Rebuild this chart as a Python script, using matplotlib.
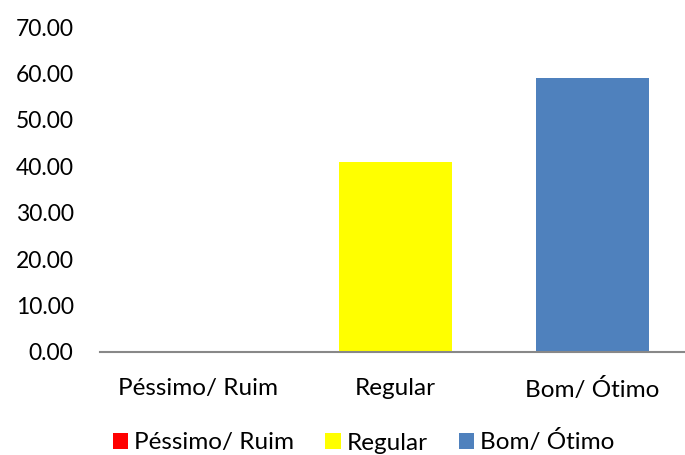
import matplotlib
matplotlib.use("Agg")
import matplotlib.pyplot as plt
from matplotlib.patches import Patch

categories = ["Péssimo/ Ruim", "Regular", "Bom/ Ótimo"]
values = [0.0, 40.9, 59.1]
colors = ["#FF0000", "#FFFF00", "#4F81BD"]
yticks = [0, 10, 20, 30, 40, 50, 60, 70]

plt.rcParams['font.family'] = ['Lato', 'DejaVu Sans']

fig = plt.figure(figsize=(6.85, 4.55), dpi=100)
ax = fig.add_axes([100/685, 1 - 352/455, 591/685, (352 - 27)/455])

x = list(range(len(categories)))
ax.bar(x, values, width=0.575, color=colors)
ax.set_xlim(-0.5, 2.5)
ax.set_ylim(0, 70)
ax.set_yticks(yticks)
ax.set_yticklabels([f"{v:.2f}" for v in yticks], fontsize=16.5)
ax.set_xticks(x)
ax.set_xticklabels(categories, fontsize=17.5)
for s in ["top", "right", "left"]:
    ax.spines[s].set_visible(False)
ax.spines["bottom"].set_color("#888888")
ax.spines["bottom"].set_linewidth(1.5)
ax.tick_params(axis="both", length=0)
ax.tick_params(axis="y", pad=19)
ax.tick_params(axis="x", pad=19)

handles = [Patch(facecolor=c, edgecolor="none") for c in colors]
fig.legend(handles, categories, loc="center", bbox_to_anchor=(0.531, 1 - 442/455),
           ncol=3, frameon=False, fontsize=17.5, handlelength=0.62, handleheight=0.62,
           handletextpad=0.25, columnspacing=1.3)

fig.savefig("out.png", dpi=100)
